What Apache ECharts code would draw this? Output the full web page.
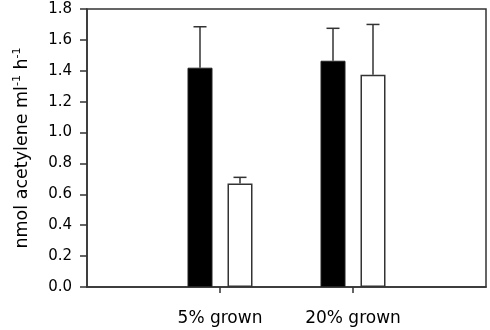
<!DOCTYPE html>
<html>
<head>
<meta charset="utf-8">
<script src="https://cdn.jsdelivr.net/npm/echarts@6/dist/echarts.min.js"></script>
<style>
  html, body { margin: 0; padding: 0; background: #fff; }
  #chart { width: 490px; height: 330px; }
</style>
</head>
<body>
<div id="chart"></div>
<script>
// categories (empty ends keep the groups at 1/3 and 2/3 of the frame)
var categories = ['', '5% grown', '20% grown', ''];
// black bars
var blackMean = [null, 1.42, 1.465, null];
var blackErr = [null, 0.265, 0.21, null];
// white bars
var whiteMean = [null, 0.67, 1.375, null];
var whiteErr = [null, 0.04, 0.325, null];
var yTicks = [0, 0.2, 0.4, 0.6, 0.8, 1.0, 1.2, 1.4, 1.6, 1.8];

var barW = 25;
var gapPx = 15;
var shift = (barW + gapPx) / 2; // distance from category centre to bar centre
var font = 'DejaVu Sans';

var container = document.getElementById('chart');
var myChart = echarts.init(container);

function errorSeries(means, errs, side) {
    var pts = [];
    for (var i = 0; i < means.length; i++) {
        if (means[i] != null) pts.push([i, means[i], means[i] + errs[i]]);
    }
    return {
        type: 'custom',
        z: 1,
        data: pts,
        renderItem: function (params, api) {
            var lo = api.coord([api.value(0), api.value(1)]);
            var hi = api.coord([api.value(0), api.value(2)]);
            var x = lo[0] + side * shift;
            var cap = 6.5;
            var style = { stroke: '#333', lineWidth: 1.5 };
            return {
                type: 'group',
                children: [
                    { type: 'line', shape: { x1: x, y1: lo[1], x2: x, y2: hi[1] }, style: style },
                    { type: 'line', shape: { x1: x - cap, y1: hi[1], x2: x + cap, y2: hi[1] }, style: style }
                ]
            };
        }
    };
}

myChart.setOption({
    animation: false,
    textStyle: { fontFamily: font },
    grid: {
        left: 87, right: 4, top: 9, bottom: 43,
        show: true, borderColor: '#333', borderWidth: 1.5, backgroundColor: 'transparent'
    },
    xAxis: {
        type: 'category',
        data: categories,
        boundaryGap: false,
        axisLine: { lineStyle: { color: '#333', width: 1.5 } },
        axisTick: {
            length: 6,
            interval: function (idx) { return idx === 1 || idx === 2; },
            lineStyle: { color: '#333', width: 1.5 }
        },
        axisLabel: { interval: 0, margin: 23, fontSize: 17, color: '#000', fontFamily: font },
        splitLine: { show: false }
    },
    yAxis: {
        type: 'value',
        min: yTicks[0],
        max: yTicks[yTicks.length - 1],
        interval: 0.2,
        name: '{t|nmol acetylene ml}{s|-1}{t| h}{s|-1}',
        nameLocation: 'middle',
        nameGap: 55,
        nameRotate: 90,
        nameTextStyle: {
            rich: {
                t: { fontSize: 17.5, color: '#000', fontFamily: font },
                s: { fontSize: 11, color: '#000', fontFamily: font, verticalAlign: 'top', padding: [0, 0, 9, 0] }
            }
        },
        axisLine: { show: true, lineStyle: { color: '#333', width: 1.5 } },
        axisTick: { show: true, length: 7, lineStyle: { color: '#333', width: 1.5 } },
        axisLabel: {
            margin: 15, fontSize: 15, color: '#000', fontFamily: font,
            formatter: function (v) { return v.toFixed(1); }
        },
        splitLine: { show: false }
    },
    series: [
        {
            type: 'bar',
            data: blackMean,
            barWidth: barW,
            barGap: (gapPx / barW * 100) + '%',
            z: 2,
            itemStyle: { color: '#000', borderColor: '#222', borderWidth: 1 }
        },
        {
            type: 'bar',
            data: whiteMean,
            barWidth: barW,
            z: 2,
            itemStyle: { color: '#fff', borderColor: '#333', borderWidth: 1.5 }
        },
        errorSeries(blackMean, blackErr, -1),
        errorSeries(whiteMean, whiteErr, 1)
    ]
});

var resizeObserver = new ResizeObserver(function () { myChart && myChart.resize(); });
resizeObserver.observe(container);
</script>
</body>
</html>
